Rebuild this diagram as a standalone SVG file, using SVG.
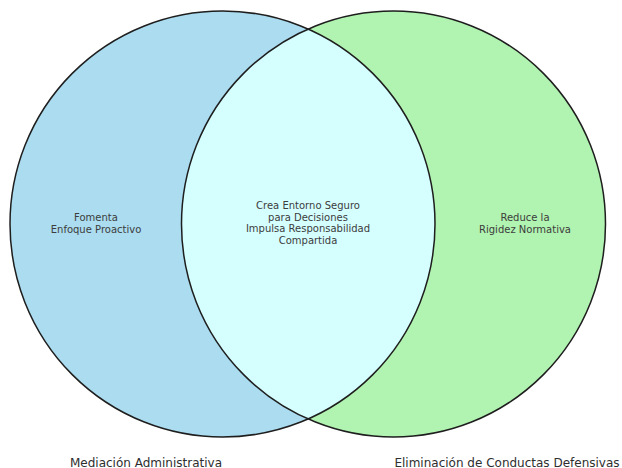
<svg xmlns="http://www.w3.org/2000/svg" width="622" height="468" viewBox="0 0 622 468">
  <style>
    .lbl { font-family: "DejaVu Sans", "Liberation Sans", sans-serif; font-size: 10px; fill: #3c3c3c; text-anchor: middle; }
    .set { font-family: "DejaVu Sans", "Liberation Sans", sans-serif; font-size: 12px; fill: #2e2e2e; text-anchor: middle; }
    .edge { fill: none; stroke: #1e1e1e; stroke-width: 1.5; }
  </style>
  <defs>
    <clipPath id="clipLeft">
      <ellipse cx="222.5" cy="224" rx="212.5" ry="213"/>
    </clipPath>
  </defs>
  <rect width="622" height="468" fill="#ffffff"/>

  <!-- left set: Mediación Administrativa -->
  <g id="set-left">
    <ellipse cx="222.5" cy="224" rx="212.5" ry="213" fill="#abdcf0"/>
  </g>

  <!-- right set: Eliminación de Conductas Defensivas -->
  <g id="set-right">
    <ellipse cx="393.5" cy="224" rx="212" ry="213" fill="#b1f3b1"/>
  </g>

  <!-- overlap region -->
  <g id="set-overlap">
    <ellipse cx="393.5" cy="224" rx="212" ry="213" fill="#d5ffff" clip-path="url(#clipLeft)"/>
  </g>

  <!-- outlines -->
  <g id="outlines">
    <ellipse class="edge" cx="222.5" cy="224" rx="212.5" ry="213"/>
    <ellipse class="edge" cx="393.5" cy="224" rx="212" ry="213"/>
  </g>

  <!-- region labels -->
  <g id="label-left">
    <text class="lbl" x="96" y="221">Fomenta</text>
    <text class="lbl" x="96" y="233">Enfoque Proactivo</text>
  </g>
  <g id="label-overlap">
    <text class="lbl" x="308" y="209">Crea Entorno Seguro</text>
    <text class="lbl" x="308" y="220.7">para Decisiones</text>
    <text class="lbl" x="308" y="232.4">Impulsa Responsabilidad</text>
    <text class="lbl" x="308" y="244.1">Compartida</text>
  </g>
  <g id="label-right">
    <text class="lbl" x="525" y="221">Reduce la</text>
    <text class="lbl" x="525" y="233">Rigidez Normativa</text>
  </g>

  <!-- set names -->
  <g id="set-names">
    <text class="set" x="146" y="466.5">Mediación Administrativa</text>
    <text class="set" x="507" y="466.5">Eliminación de Conductas Defensivas</text>
  </g>
</svg>
